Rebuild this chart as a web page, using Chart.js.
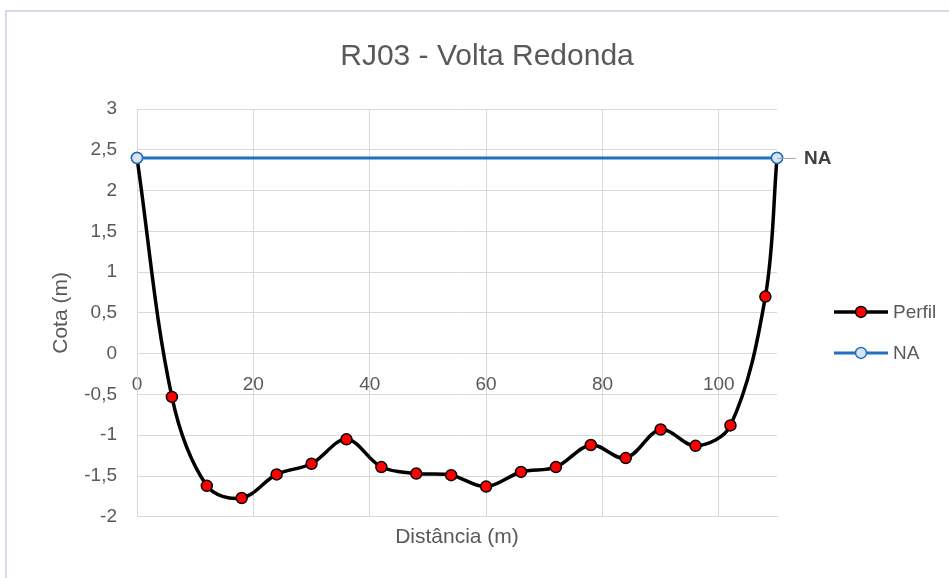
<!DOCTYPE html>
<html>
<head>
<meta charset="utf-8">
<script src="https://cdn.jsdelivr.net/npm/chart.js@4.4.1/dist/chart.umd.min.js"></script>
<style>
  html, body { margin: 0; padding: 0; background: #fff; width: 949px; height: 578px; overflow: hidden; }
  #moldura { position: absolute; left: 5px; top: 10px; width: 1000px; height: 1000px; border: 2px solid #d3dce8; box-sizing: border-box; }
  #grafico { position: absolute; left: 0; top: 0; }
</style>
</head>
<body>
<div id="moldura"></div>
<canvas id="grafico" width="974" height="578"></canvas>
<script>
// Perfil da seção
const distancia = [0, 6, 12, 18, 24, 30, 36, 42, 48, 54, 60, 66, 72, 78, 84, 90, 96, 102, 108, 110];
const cota = [2.4, -0.53, -1.62, -1.77, -1.48, -1.35, -1.05, -1.39, -1.47, -1.49, -1.63, -1.45, -1.39, -1.12, -1.28, -0.93, -1.13, -0.88, 0.70, 2.4];

// Nível d'água
const naDistancia = [0, 110];
const naCota = [2.4, 2.4];
const naRotulo = 'NA';

const xTicks = [0, 20, 40, 60, 80, 100];
const yTicks = [-2, -1.5, -1, -0.5, 0, 0.5, 1, 1.5, 2, 2.5, 3];

const fonte = "'Liberation Sans', Arial, sans-serif";
const cinza = '#595959';
const grade = '#d9d9d9';
const azul = '#1f70c1';

const virgula = v => String(v).replace('.', ',');

// legenda à direita (linha + marcador)
const legendaPlugin = {
  id: 'legenda',
  afterDraw(chart) {
    const { ctx, chartArea } = chart;
    const meio = (chartArea.top + chartArea.bottom) / 2;
    chart.data.datasets.forEach((ds, i) => {
      const y = meio - 1 + i * 41;
      const x0 = chartArea.right + 57;
      ctx.save();
      ctx.strokeStyle = ds.borderColor;
      ctx.lineWidth = ds.borderWidth;
      ctx.beginPath(); ctx.moveTo(x0, y); ctx.lineTo(x0 + 54, y); ctx.stroke();
      ctx.beginPath(); ctx.arc(x0 + 27, y, ds.pointRadius, 0, Math.PI * 2);
      ctx.fillStyle = ds.pointBackgroundColor; ctx.fill();
      ctx.lineWidth = ds.pointBorderWidth; ctx.strokeStyle = ds.pointBorderColor; ctx.stroke();
      ctx.fillStyle = cinza;
      ctx.font = '19px ' + fonte;
      ctx.textAlign = 'left';
      ctx.textBaseline = 'middle';
      ctx.fillText(ds.label, x0 + 59, y + 1);
      ctx.restore();
    });
  }
};

// rótulo "NA" no último ponto
const rotuloNaPlugin = {
  id: 'rotuloNa',
  afterDatasetsDraw(chart) {
    const { ctx } = chart;
    const meta = chart.getDatasetMeta(1);
    const p = meta.data[meta.data.length - 1];
    ctx.save();
    ctx.strokeStyle = '#a6a6a6';
    ctx.lineWidth = 1;
    ctx.beginPath(); ctx.moveTo(p.x, p.y + 0.5); ctx.lineTo(p.x + 19, p.y + 0.5); ctx.stroke();
    ctx.fillStyle = '#404040';
    ctx.font = 'bold 19px ' + fonte;
    ctx.textAlign = 'left';
    ctx.textBaseline = 'middle';
    ctx.fillText(naRotulo, p.x + 27, p.y + 1);
    ctx.restore();
  }
};

new Chart(document.getElementById('grafico'), {
  type: 'line',
  data: {
    datasets: [
      {
        label: 'Perfil',
        data: distancia.map((d, i) => ({ x: d, y: cota[i] })),
        borderColor: '#000000',
        borderWidth: 3.5,
        tension: 0.35,
        pointRadius: 5.5,
        pointBackgroundColor: '#ff0000',
        pointBorderColor: '#000000',
        pointBorderWidth: 1.5,
        clip: 10,
        order: 1
      },
      {
        label: 'NA',
        data: naDistancia.map((d, i) => ({ x: d, y: naCota[i] })),
        borderColor: azul,
        borderWidth: 3,
        pointRadius: 5.5,
        pointBackgroundColor: '#dae3f3',
        pointBorderColor: azul,
        pointBorderWidth: 1.5,
        clip: 10,
        order: 0
      }
    ]
  },
  options: {
    responsive: false,
    animation: false,
    layout: { padding: { left: 0, right: 0, top: 0, bottom: 24 } },
    plugins: {
      legend: { display: false },
      tooltip: { enabled: false },
      title: {
        display: true,
        text: 'RJ03 - Volta Redonda',
        color: cinza,
        font: { family: fonte, size: 30, weight: 'normal' },
        padding: { top: 39, bottom: 34 }
      }
    },
    scales: {
      x: {
        type: 'linear',
        min: 0,
        max: 110,
        afterBuildTicks: s => { s.ticks = xTicks.map(v => ({ value: v })); },
        grid: { color: grade, drawTicks: false },
        border: { color: grade },
        ticks: { display: false },
        title: {
          display: true,
          text: 'Distância (m)',
          color: cinza,
          font: { family: fonte, size: 21 },
          padding: { top: 8, bottom: 4 }
        }
      },
      x2: {
        type: 'linear',
        position: { y: 0 },
        min: 0,
        max: 110,
        afterBuildTicks: s => { s.ticks = xTicks.map(v => ({ value: v })); },
        grid: { display: false },
        border: { display: false },
        ticks: { color: cinza, font: { family: fonte, size: 19 }, padding: 12, maxRotation: 0 }
      },
      y: {
        min: -2,
        max: 3,
        afterBuildTicks: s => { s.ticks = yTicks.map(v => ({ value: v })); },
        afterFit: s => { s.width = 137; },
        grid: { color: grade, drawTicks: false },
        border: { color: grade },
        ticks: { color: cinza, font: { family: fonte, size: 19 }, padding: 20, callback: v => virgula(v) },
        title: {
          display: true,
          text: 'Cota (m)',
          color: cinza,
          font: { family: fonte, size: 21 },
          padding: { top: 49, bottom: 12 }
        }
      },
      yR: {
        position: 'right',
        display: true,
        min: -2,
        max: 3,
        afterFit: s => { s.width = 197; },
        grid: { display: false },
        border: { display: false },
        ticks: { display: false }
      }
    }
  },
  plugins: [legendaPlugin, rotuloNaPlugin]
});
</script>
</body>
</html>
